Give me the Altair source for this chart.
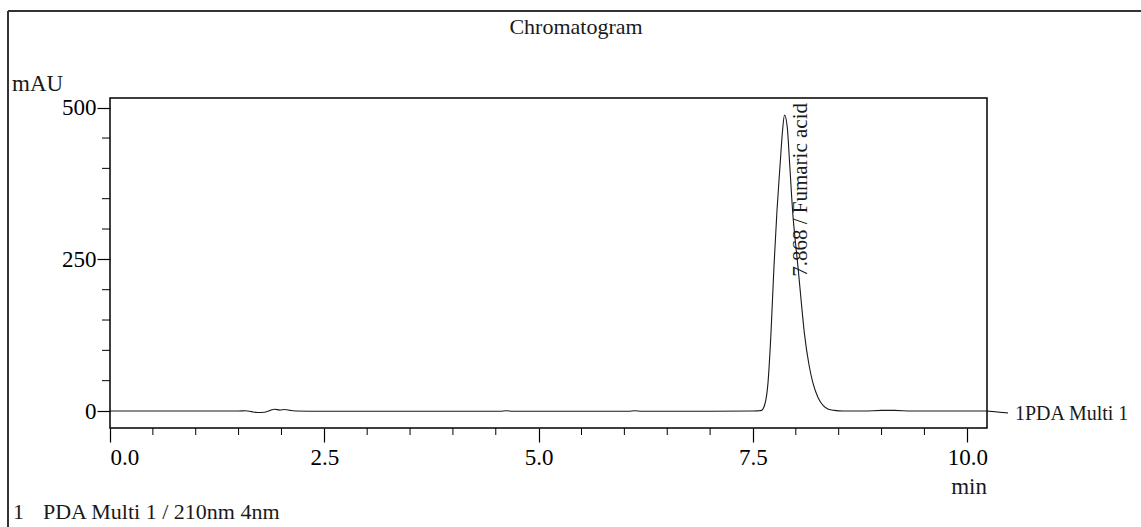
import altair as alt
import pandas as pd

# Detector trace: retention time (min) and response (mAU), PDA Multi 1 / 210 nm
time_min = [
    0.00, 1.50, 1.58, 1.65, 1.72, 1.80, 1.86, 1.92, 1.98, 2.04, 2.10, 2.16,
    2.50, 3.50, 4.55, 4.62, 4.70, 5.50, 6.05, 6.12, 6.20, 7.00, 7.50,
    7.56, 7.60, 7.62, 7.64, 7.65, 7.675, 7.71, 7.745, 7.78, 7.815, 7.845,
    7.868, 7.90, 7.93, 7.965, 8.00, 8.025, 8.06, 8.10, 8.155, 8.20, 8.26,
    8.32, 8.38, 8.45, 8.55, 8.80, 9.00, 9.15, 9.35, 10.23,
]
signal_mau = [
    0.0, 0.0, 0.5, -1.0, -2.5, -2.0, 0.5, 3.0, 1.5, 2.5, 1.0, 0.0,
    -0.5, -0.5, -0.5, 0.5, -0.5, -0.5, -0.5, 0.5, -0.5, -0.5, 0.0,
    0.3, 1.0, 4.0, 12.0, 18.0, 46.0, 128.0, 238.0, 330.0, 403.0, 462.0,
    488.0, 468.0, 403.0, 325.0, 272.0, 238.0, 185.0, 128.0, 75.0, 46.0, 22.0,
    9.0, 3.0, 1.0, 0.0, 0.0, 1.0, 1.0, 0.0, 0.0,
]

peak_time = [7.868]
peak_label = ["7.868 / Fumaric acid"]

x_major = [0.0, 2.5, 5.0, 7.5, 10.0]
x_minor = [0.5, 1.0, 1.5, 2.0, 3.0, 3.5, 4.0, 4.5, 5.5, 6.0, 6.5, 7.0,
           8.0, 8.5, 9.0, 9.5]
y_major = [0, 250, 500]
y_minor = [50, 100, 150, 200, 300, 350, 400, 450]

W, H = 877, 330
FONT = "Liberation Serif"
INK = "#1a1a1a"

xs = alt.Scale(domain=[0, 10.23], nice=False, zero=False)
ys = alt.Scale(domain=[-28, 516], nice=False, zero=False)

trace = pd.DataFrame({"t": time_min, "v": signal_mau})

line = alt.Chart(trace).mark_line(
    color=INK, strokeWidth=1.1, interpolate="monotone"
).encode(
    x=alt.X("t:Q", scale=xs, axis=alt.Axis(
        values=x_major, format=".1f", title="", grid=False, domain=False,
        tickSize=14, tickColor="black", tickWidth=1.2,
        labelFont=FONT, labelFontSize=23, labelColor="black", labelPadding=4,
    )),
    y=alt.Y("v:Q", scale=ys, axis=alt.Axis(
        values=y_major, title="", grid=False, domain=False,
        tickSize=13, tickColor="black", tickWidth=1.2,
        labelFont=FONT, labelFontSize=23, labelColor="black", labelPadding=1,
    )),
)

minor_x = alt.Chart(pd.DataFrame({"t": x_minor})).mark_rule(
    color="black", strokeWidth=1
).encode(
    x=alt.X("t:Q", scale=xs),
    y=alt.value(H),
    y2=alt.value(H + 7),
)

minor_y = alt.Chart(pd.DataFrame({"v": y_minor})).mark_rule(
    color="black", strokeWidth=1
).encode(
    y=alt.Y("v:Q", scale=ys),
    x=alt.value(-8),
    x2=alt.value(0),
)

# Rotated peak annotation; dy moves it sideways once rotated
peak = alt.Chart(pd.DataFrame({"t": peak_time, "s": peak_label})).mark_text(
    font=FONT, fontSize=21, color=INK, angle=270, align="right",
    baseline="middle", dy=16,
).encode(
    x=alt.X("t:Q", scale=xs),
    y=alt.value(5),
    text="s:N",
)


def label(text, x, y, align="left", size=22):
    return alt.Chart(pd.DataFrame({"s": [text]})).mark_text(
        font=FONT, fontSize=size, color=INK, align=align, baseline="middle"
    ).encode(x=alt.value(x), y=alt.value(y), text="s:N")


def stroke(x, x2, y, y2, width=1.2, color="black"):
    return alt.Chart(pd.DataFrame({"k": [0]})).mark_rule(
        color=color, strokeWidth=width
    ).encode(x=alt.value(x), x2=alt.value(x2), y=alt.value(y), y2=alt.value(y2))


chart = alt.layer(
    stroke(-102, 1031, -87, -87, width=2, color="#333333"),
    stroke(-102, -102, -87, 429, width=2, color="#333333"),
    line,
    minor_x,
    minor_y,
    peak,
    label("Chromatogram", 466, -71, align="center"),
    label("mAU", -98, -14, size=23),
    label("min", 877, 389, align="right", size=23),
    stroke(877, 898, 313, 315, width=1),
    label("1PDA Multi 1", 905, 316, size=20),
    label("1", -97, 414),
    label("PDA Multi 1 / 210nm 4nm", -67, 414),
).properties(
    width=W,
    height=H,
    autosize=alt.AutoSizeParams(type="none"),
    padding={"left": 110, "top": 98, "right": 154, "bottom": 99},
    background="white",
).configure_view(
    stroke="black", strokeWidth=1.5
)

chart.save("out.html", embed_options={"renderer": "svg", "actions": False})
